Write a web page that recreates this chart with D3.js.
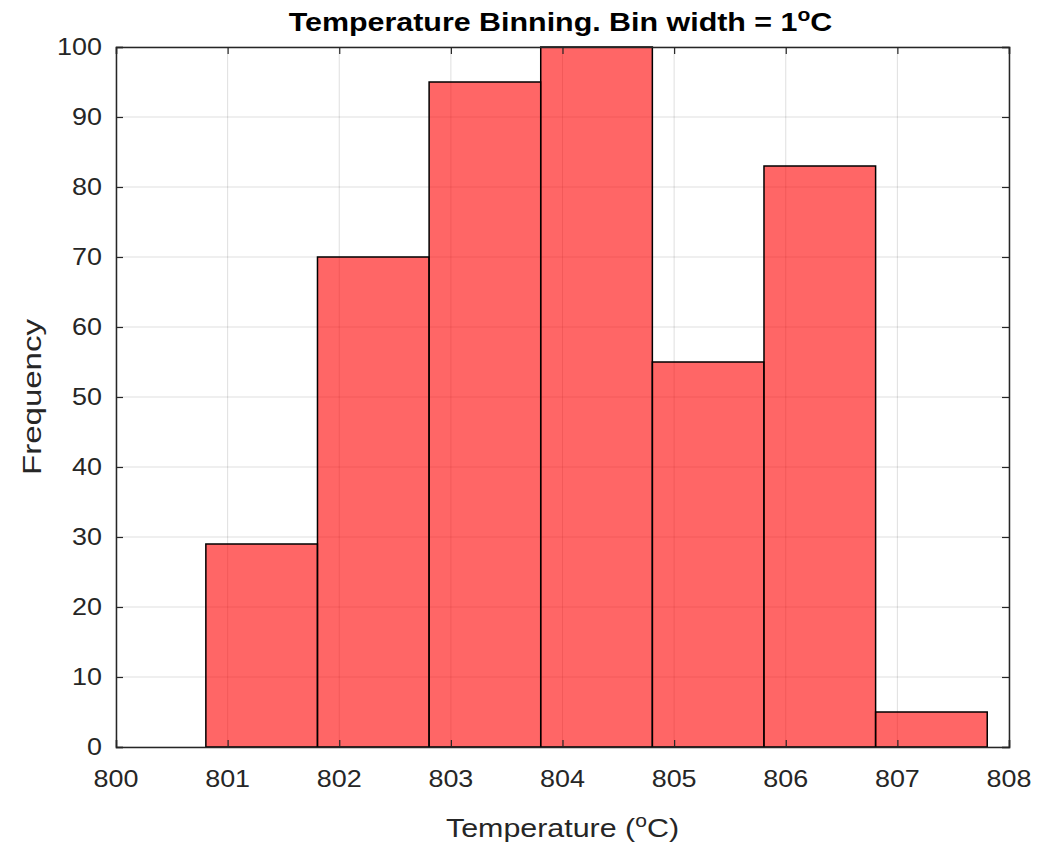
<!DOCTYPE html>
<html>
<head>
<meta charset="utf-8">
<script src="https://cdn.jsdelivr.net/npm/d3@7"></script>
<style>
	body { margin: 0; background: #fff; }
	text { font-family: "Liberation Sans", Arial, Helvetica, sans-serif; fill: #262626; }
</style>
</head>
<body>
<div id="hist"></div>
<script>
// bin data
var binStart = 800.805
var binWidth = 1
var counts = [29, 70, 95, 100, 55, 83, 5]
var xTicks = [800, 801, 802, 803, 804, 805, 806, 807, 808]
var yTicks = [0, 10, 20, 30, 40, 50, 60, 70, 80, 90, 100]

var bins = counts.map(function(c, i){
	return {x0: binStart + i * binWidth, x1: binStart + (i + 1) * binWidth, n: c}
})

var W = 1044, H = 845
var margin = {top: 47, right: 35, bottom: 98, left: 116}
var width = W - margin.left - margin.right,
	height = H - margin.top - margin.bottom

var stretch = 1.17   // text in the picture is drawn a bit wide

var svg = d3.select("#hist").append("svg")
	.attr("width", W)
	.attr("height", H)

var g = svg.append("g")
	.attr("transform", "translate(" + margin.left + "," + margin.top + ")")

var x = d3.scaleLinear().domain([800, 808]).range([0, width])
var y = d3.scaleLinear().domain([0, 100]).range([height, 0])

// grid
g.selectAll(".gx").data(xTicks).enter().append("line")
	.attr("x1", function(d){ return x(d) }).attr("x2", function(d){ return x(d) })
	.attr("y1", 0).attr("y2", height)
	.attr("stroke", "#262626").attr("stroke-opacity", 0.15).attr("stroke-width", 1)
g.selectAll(".gy").data(yTicks).enter().append("line")
	.attr("y1", function(d){ return y(d) }).attr("y2", function(d){ return y(d) })
	.attr("x1", 0).attr("x2", width)
	.attr("stroke", "#262626").attr("stroke-opacity", 0.15).attr("stroke-width", 1)

// bars
g.selectAll("rect.bar").data(bins).enter().append("rect")
	.attr("class", "bar")
	.attr("x", function(d){ return x(d.x0) })
	.attr("y", function(d){ return y(d.n) })
	.attr("width", function(d){ return x(d.x1) - x(d.x0) })
	.attr("height", function(d){ return y(0) - y(d.n) })
	.attr("fill", "#ff0000").attr("fill-opacity", 0.6)
	.attr("stroke", "#000").attr("stroke-width", 1.5)

// axes, ticks pointing inward on all four sides
var tl = 7
g.append("g").attr("transform", "translate(0," + height + ")")
	.call(d3.axisBottom(x).tickValues(xTicks).tickSize(-tl).tickPadding(0).tickFormat(""))
g.append("g")
	.call(d3.axisTop(x).tickValues(xTicks).tickSize(-tl).tickFormat(""))
g.append("g")
	.call(d3.axisLeft(y).tickValues(yTicks).tickSize(-tl).tickFormat(""))
g.append("g").attr("transform", "translate(" + width + ",0)")
	.call(d3.axisRight(y).tickValues(yTicks).tickSize(-tl).tickFormat(""))

g.selectAll(".domain").attr("stroke", "#262626").attr("stroke-width", 1.5)
g.selectAll(".tick line").attr("stroke", "#262626").attr("stroke-width", 1.2)

// tick labels
g.selectAll(".xl").data(xTicks).enter().append("text")
	.attr("transform", function(d){ return "translate(" + x(d) + "," + (height + 40) + ") scale(" + stretch + ",1)" })
	.attr("text-anchor", "middle")
	.style("font-size", "23px")
	.text(function(d){ return d })

g.selectAll(".yl").data(yTicks).enter().append("text")
	.attr("transform", function(d){ return "translate(-14," + (y(d) + 8) + ") scale(" + stretch + ",1)" })
	.attr("text-anchor", "end")
	.style("font-size", "23px")
	.text(function(d){ return d })

// title
var title = svg.append("text")
	.attr("transform", "translate(" + (margin.left + width / 2 - 2) + ",31) scale(" + stretch + ",1)")
	.attr("text-anchor", "middle")
	.style("font-size", "26px")
	.style("font-weight", "bold")
	.style("fill", "#000")
title.append("tspan").text("Temperature Binning. Bin width = 1")
title.append("tspan").attr("dy", -10).style("font-size", "18px").text("o")
title.append("tspan").attr("dy", 10).text("C")

// x label
var xlab = svg.append("text")
	.attr("transform", "translate(" + (margin.left + width / 2) + ",837) scale(" + stretch + ",1)")
	.attr("text-anchor", "middle")
	.style("font-size", "26px")
xlab.append("tspan").text("Temperature (")
xlab.append("tspan").attr("dy", -10).style("font-size", "18px").text("o")
xlab.append("tspan").attr("dy", 10).text("C)")

// y label
svg.append("text")
	.attr("transform", "translate(41," + (margin.top + height / 2) + ") rotate(-90) scale(1.27,1)")
	.attr("text-anchor", "middle")
	.style("font-size", "26px")
	.text("Frequency")
</script>
</body>
</html>
